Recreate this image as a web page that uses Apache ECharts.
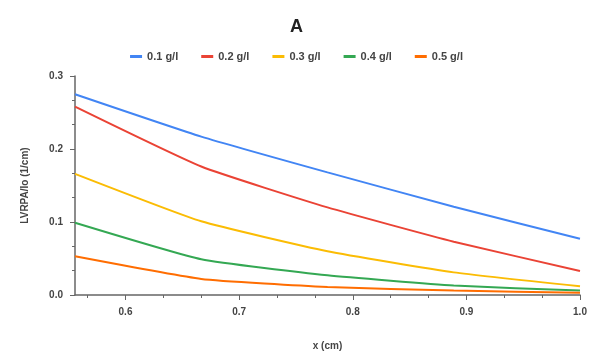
<!DOCTYPE html>
<html>
<head>
<meta charset="utf-8">
<script src="https://cdn.jsdelivr.net/npm/echarts@6/dist/echarts.min.js"></script>
<style>
  html, body { margin: 0; padding: 0; background: #fff; }
  #chart { width: 593px; height: 356px; }
</style>
</head>
<body>
<div id="chart"></div>
<script>
// x positions of the samples (cm)
const xValues = [5 / 9, 6 / 9, 7 / 9, 8 / 9, 1.0];
const seriesNames = ["0.1 g/l", "0.2 g/l", "0.3 g/l", "0.4 g/l", "0.5 g/l"];
const blueValues = [0.275, 0.217, 0.168, 0.121, 0.077];
const redValues = [0.258, 0.176, 0.120, 0.073, 0.033];
const yellowValues = [0.166, 0.101, 0.060, 0.031, 0.012];
const greenValues = [0.099, 0.049, 0.027, 0.013, 0.006];
const orangeValues = [0.053, 0.022, 0.011, 0.006, 0.003];
const xTicks = [0.6, 0.7, 0.8, 0.9, 1.0];
const xMinorTicks = [0.5667, 0.6333, 0.6667, 0.7333, 0.7667, 0.8333, 0.8667, 0.9333, 0.9667];

const COLORS = ["#4285F4", "#EA4335", "#FBBC04", "#34A853", "#FF6D01"];
const allValues = [blueValues, redValues, yellowValues, greenValues, orangeValues];

const FONT = "'Liberation Sans', Arial, sans-serif";
const TEXT = "#444";
const AXIS = "#666";

const chart = echarts.init(document.getElementById("chart"));

chart.setOption({
  animation: false,
  title: {
    text: "A",
    left: "center",
    top: 13,
    textStyle: { fontFamily: FONT, fontSize: 18, fontWeight: "bold", color: "#222" }
  },
  legend: {
    top: 46,
    left: "center",
    itemWidth: 12,
    itemHeight: 3,
    itemGap: 23,
    icon: "rect",
    textStyle: { fontFamily: FONT, fontSize: 11, fontWeight: "bold", color: TEXT },
    data: seriesNames
  },
  grid: { left: 75, right: 13, top: 76, bottom: 60 },
  xAxis: [
    {
      type: "value",
      min: xValues[0],
      max: 1.0,
      name: "x (cm)",
      nameLocation: "middle",
      nameGap: 46,
      nameTextStyle: { fontFamily: FONT, fontSize: 10, fontWeight: "bold", color: TEXT },
      axisLine: { show: true, lineStyle: { color: AXIS, width: 1.5 } },
      axisTick: { show: true, length: 5, customValues: xTicks, lineStyle: { color: AXIS } },
      axisLabel: {
        customValues: xTicks,
        margin: 12,
        fontFamily: FONT,
        fontSize: 10,
        fontWeight: "bold",
        color: TEXT,
        formatter: (v) => v.toFixed(1)
      },
      splitLine: { show: false }
    },
    {
      type: "value",
      min: xValues[0],
      max: 1.0,
      position: "bottom",
      axisLine: { show: false },
      axisTick: { show: true, length: 3, customValues: xMinorTicks, lineStyle: { color: AXIS } },
      axisLabel: { show: false },
      splitLine: { show: false }
    }
  ],
  yAxis: {
    type: "value",
    min: 0,
    max: 0.3,
    interval: 0.1,
    name: "LVRPA/Io (1/cm)",
    nameLocation: "middle",
    nameGap: 45,
    nameTextStyle: { fontFamily: FONT, fontSize: 10, fontWeight: "bold", color: TEXT },
    axisLine: { show: true, lineStyle: { color: AXIS, width: 1.5 } },
    axisTick: { show: true, length: 5, lineStyle: { color: AXIS } },
    minorTick: { show: true, splitNumber: 3, length: 3, lineStyle: { color: AXIS } },
    axisLabel: {
      margin: 12,
      fontFamily: FONT,
      fontSize: 10,
      fontWeight: "bold",
      color: TEXT,
      formatter: (v) => v.toFixed(1)
    },
    splitLine: { show: false }
  },
  series: seriesNames.map((name, i) => ({
    name: name,
    type: "line",
    xAxisIndex: 0,
    showSymbol: false,
    symbol: "none",
    smooth: 0.15,
    lineStyle: { width: 2, color: COLORS[i] },
    itemStyle: { color: COLORS[i] },
    data: xValues.map((x, j) => [x, allValues[i][j]])
  }))
});
</script>
</body>
</html>
